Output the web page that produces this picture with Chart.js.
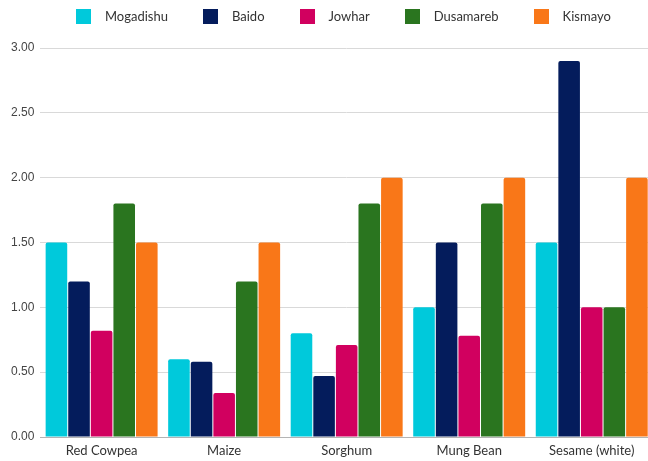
<!DOCTYPE html>
<html>
<head>
<meta charset="utf-8">
<script src="https://cdn.jsdelivr.net/npm/chart.js@4"></script>
<style>
  html, body { margin: 0; padding: 0; background: #fff; overflow: hidden; }
  #wrap { position: relative; width: 648px; height: 461px; overflow: hidden; }
  #chart { position: absolute; left: 0; top: 0; display: block; }
  #legend {
    position: absolute; top: 9px; left: 76px;
    display: flex; gap: 35px; white-space: nowrap;
    font-family: Lato, sans-serif; font-size: 13px; color: #333; line-height: 15px;
  }
  #legend .item { display: flex; align-items: center; gap: 14px; }
  #legend .box { width: 15px; height: 15px; }
</style>
</head>
<body>
<div id="wrap">
  <canvas id="chart" width="653" height="461"></canvas>
  <div id="legend"></div>
</div>
<script>
const crops = ['Red Cowpea', 'Maize', 'Sorghum', 'Mung Bean', 'Sesame (white)'];
const markets = ['Mogadishu', 'Baido', 'Jowhar', 'Dusamareb', 'Kismayo'];
const colors = ['#00c9db', '#041c5c', '#d1005f', '#2a751f', '#f97718'];

// price per market, one value per crop
const mogadishu = [1.50, 0.60, 0.80, 1.00, 1.50];
const baido     = [1.20, 0.58, 0.47, 1.50, 2.90];
const jowhar    = [0.82, 0.34, 0.71, 0.78, 1.00];
const dusamareb = [1.80, 1.20, 1.80, 1.80, 1.00];
const kismayo   = [1.50, 1.50, 2.00, 2.00, 2.00];

const yTicks = [0, 0.5, 1, 1.5, 2, 2.5, 3];

const series = [mogadishu, baido, jowhar, dusamareb, kismayo];

// Build the legend
const legend = document.getElementById('legend');
markets.forEach((name, i) => {
  const item = document.createElement('div');
  item.className = 'item';
  const box = document.createElement('span');
  box.className = 'box';
  box.style.background = colors[i];
  const label = document.createElement('span');
  label.textContent = name;
  item.appendChild(box);
  item.appendChild(label);
  legend.appendChild(item);
});

const context = document.getElementById('chart').getContext('2d');
const chart = new Chart(context, {
  type: 'bar',
  data: {
    labels: crops,
    datasets: markets.map((name, i) => ({
      label: name,
      data: series[i],
      backgroundColor: colors[i],
      borderRadius: { topLeft: 2, topRight: 2 },
      borderSkipped: 'bottom',
      barPercentage: 0.955,
      categoryPercentage: 0.922
    }))
  },
  options: {
    responsive: false,
    animation: false,
    layout: { padding: { top: 48, left: 5, right: 0, bottom: 2 } },
    plugins: {
      legend: { display: false },
      tooltip: { enabled: false }
    },
    scales: {
      x: {
        grid: { display: false, drawTicks: false },
        border: { display: true, color: '#b4b4b4', width: 1 },
        afterFit: axis => { axis.height = 22; },
        ticks: {
          color: '#333',
          padding: 6,
          font: { family: 'Lato', size: 13 }
        }
      },
      y: {
        min: 0,
        max: 3,
        afterBuildTicks: axis => { axis.ticks = yTicks.map(v => ({ value: v })); },
        grid: { color: '#d9d9d9', drawTicks: false },
        border: { display: false },
        ticks: {
          color: '#444',
          padding: 6,
          font: { family: 'Liberation Sans', size: 12 },
          callback: v => Number(v).toFixed(2)
        }
      }
    }
  }
});
</script>
</body>
</html>
